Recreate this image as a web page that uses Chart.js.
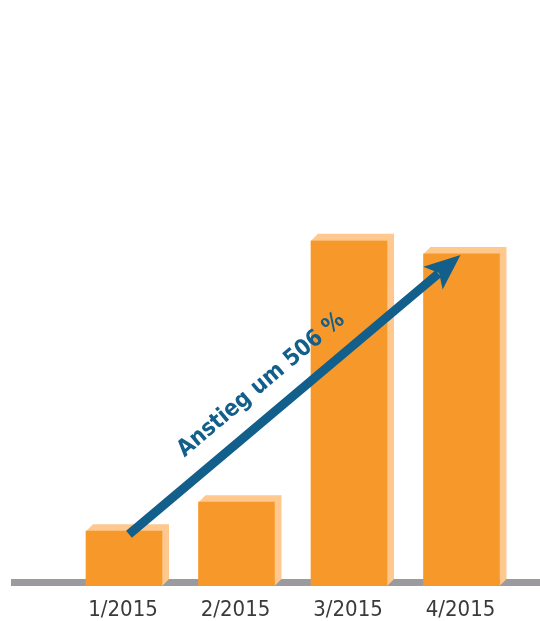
<!DOCTYPE html>
<html lang="de">
<head>
<meta charset="utf-8">
<title>Anstieg 2015</title>
<script src="https://cdn.jsdelivr.net/npm/chart.js@4.4.1/dist/chart.umd.min.js"></script>
<style>
    html, body { margin: 0; padding: 0; background: #ffffff; }
    #wrap { width: 540px; height: 621px; position: relative; }
</style>
</head>
<body>
<div id="wrap"><canvas id="quarterChart"></canvas></div>
<script>
// Quarters and values (1/2015 = 100)
const quarters = ['1/2015', '2/2015', '3/2015', '4/2015'];
const values = [100, 153, 630, 606];
const yMax = 1000;
const arrowText = 'Anstieg um 506 %';

const colors = {
    front: '#f7992a',
    depth: '#fec88e',
    floor: '#9a9a9f',
    arrow: '#135f8b',
    label: '#3a3a3a'
};
const depth = 7;

// Floor band plus the light top / side faces behind each bar
const depthPlugin = {
    id: 'depthFaces',
    beforeDatasetsDraw(chart) {
        const ctx = chart.ctx;
        const base = chart.scales.y.getPixelForValue(0);
        ctx.save();
        ctx.fillStyle = colors.floor;
        ctx.fillRect(11, base - depth, chart.width - 11, depth);

        ctx.fillStyle = colors.depth;
        chart.getDatasetMeta(0).data.forEach(bar => {
            const p = bar.getProps(['x', 'y', 'base', 'width'], true);
            const left = p.x - p.width / 2;
            const right = p.x + p.width / 2;
            ctx.beginPath();
            ctx.moveTo(left, p.y);
            ctx.lineTo(left + depth, p.y - depth);
            ctx.lineTo(right + depth, p.y - depth);
            ctx.lineTo(right + depth, p.base - depth);
            ctx.lineTo(right, p.base);
            ctx.lineTo(right, p.y);
            ctx.closePath();
            ctx.fill();
        });
        ctx.restore();
    },
    afterDatasetsDraw(chart) {
        const ctx = chart.ctx;
        const bars = chart.getDatasetMeta(0).data;
        const first = bars[0].getProps(['x', 'y'], true);
        const last = bars[bars.length - 1].getProps(['x', 'y'], true);

        // arrow from the first bar top to the last bar top
        const sx = first.x + 5, sy = first.y + 3;
        const tx = last.x - 1, ty = last.y + 1;
        const len = Math.hypot(tx - sx, ty - sy);
        const ux = (tx - sx) / len, uy = (ty - sy) / len;
        const nx = uy, ny = -ux; // normal pointing up-left

        ctx.save();
        ctx.strokeStyle = colors.arrow;
        ctx.fillStyle = colors.arrow;
        ctx.lineWidth = 9;
        ctx.lineCap = 'butt';
        ctx.beginPath();
        ctx.moveTo(sx, sy);
        ctx.lineTo(tx - ux * 29, ty - uy * 29);
        ctx.stroke();

        const headLen = 36, headHalf = 15, notch = 28;
        ctx.beginPath();
        ctx.moveTo(tx, ty);
        ctx.lineTo(tx - ux * headLen + nx * headHalf, ty - uy * headLen + ny * headHalf);
        ctx.lineTo(tx - ux * notch, ty - uy * notch);
        ctx.lineTo(tx - ux * headLen - nx * headHalf, ty - uy * headLen - ny * headHalf);
        ctx.closePath();
        ctx.fill();

        // label running along the arrow
        const along = len * 0.455, off = 23;
        const cx = sx + ux * along + nx * off;
        const cy = sy + uy * along + ny * off;
        ctx.translate(cx, cy);
        ctx.rotate(Math.atan2(uy, ux));
        ctx.font = 'bold 23px "DejaVu Sans Condensed", "DejaVu Sans", sans-serif';
        ctx.textAlign = 'center';
        ctx.textBaseline = 'alphabetic';
        ctx.fillText(arrowText, 0, 0);
        ctx.restore();
    },
    afterDraw(chart) {
        // quarter labels under the floor band
        const ctx = chart.ctx;
        const xScale = chart.scales.x;
        const base = chart.scales.y.getPixelForValue(0);
        ctx.save();
        ctx.fillStyle = colors.label;
        ctx.font = '22px "DejaVu Sans Condensed", "DejaVu Sans", sans-serif';
        ctx.textAlign = 'center';
        ctx.textBaseline = 'middle';
        quarters.forEach((q, i) => {
            ctx.fillText(q, xScale.getPixelForValue(i) - 1, base + 24);
        });
        ctx.restore();
    }
};

new Chart(document.getElementById('quarterChart'), {
    type: 'bar',
    data: {
        labels: quarters,
        datasets: [{
            data: values,
            backgroundColor: colors.front,
            borderWidth: 0,
            barThickness: 76
        }]
    },
    options: {
        responsive: true,
        maintainAspectRatio: false,
        animation: false,
        layout: { padding: { left: 67.75, right: 22.25, top: 38, bottom: 35 } },
        plugins: { legend: { display: false }, tooltip: { enabled: false } },
        scales: {
            x: { display: false },
            y: { display: false, min: 0, max: yMax }
        }
    },
    plugins: [depthPlugin]
});
</script>
</body>
</html>
